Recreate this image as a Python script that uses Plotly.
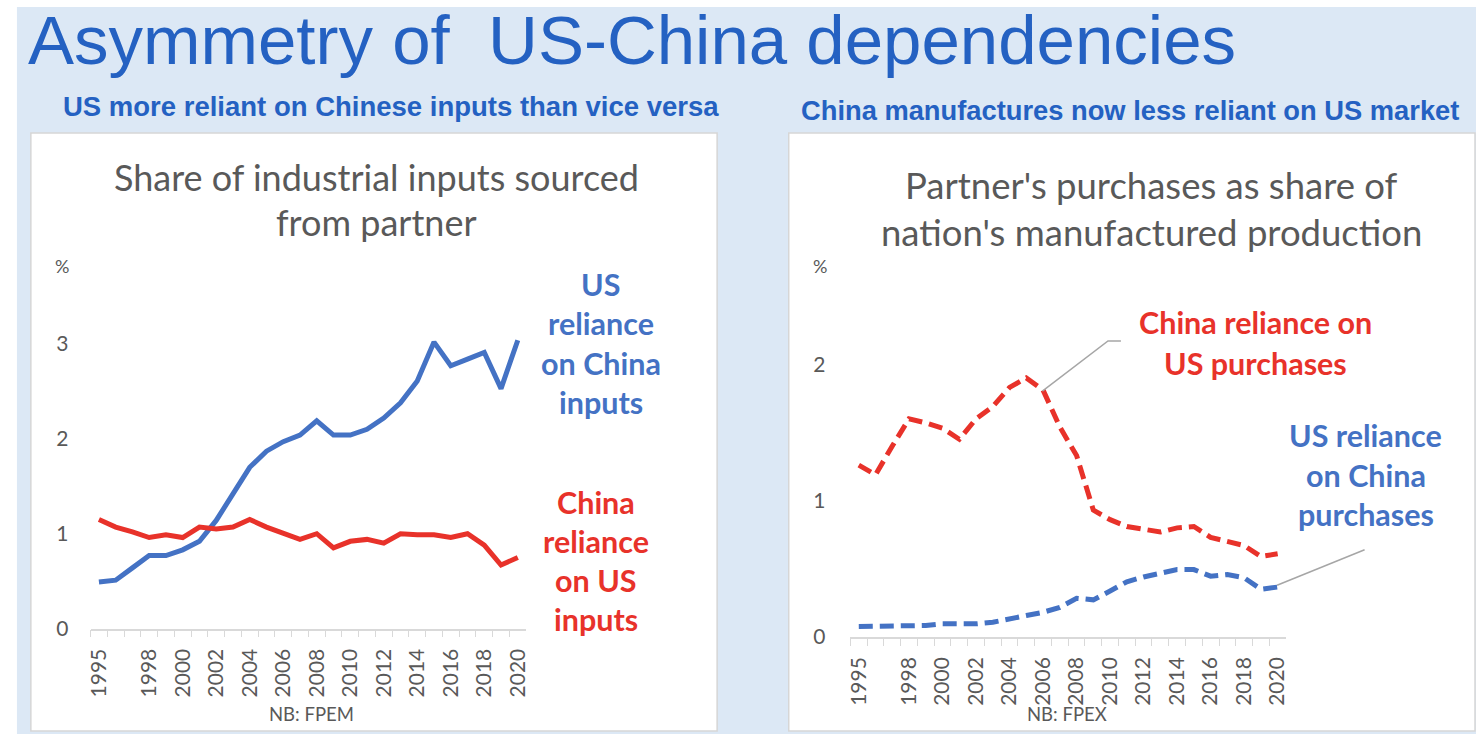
import plotly.graph_objects as go

# ---------------- data ----------------
years = [str(y) for y in range(1995, 2021)]
shown_labels = ["1995", "1998", "2000", "2002", "2004", "2006", "2008", "2010",
                "2012", "2014", "2016", "2018", "2020"]

# Left chart: share of industrial inputs sourced from partner (%)
us_reliance_inputs = [0.49, 0.51, 0.64, 0.77, 0.77, 0.83, 0.92, 1.14, 1.42, 1.70,
                      1.87, 1.97, 2.04, 2.19, 2.04, 2.04, 2.10, 2.22, 2.38, 2.61,
                      3.02, 2.77, 2.84, 2.91, 2.53, 3.04]
china_reliance_inputs = [1.15, 1.07, 1.02, 0.96, 0.99, 0.96, 1.07, 1.05, 1.07, 1.15,
                         1.07, 1.01, 0.94, 1.00, 0.85, 0.92, 0.94, 0.90, 1.00, 0.99,
                         0.99, 0.96, 1.00, 0.88, 0.67, 0.75]

# Right chart: partner's purchases as share of nation's manufactured production (%)
china_reliance_purchases = [1.26, 1.19, 1.40, 1.60, 1.57, 1.53, 1.45, 1.60, 1.69, 1.83,
                            1.90, 1.81, 1.54, 1.33, 0.93, 0.86, 0.81, 0.79, 0.77, 0.80,
                            0.81, 0.73, 0.70, 0.67, 0.59, 0.61]
us_reliance_purchases = [0.077, 0.077, 0.077, 0.077, 0.084, 0.096, 0.092, 0.096, 0.108, 0.137,
                         0.157, 0.181, 0.217, 0.284, 0.272, 0.337, 0.405, 0.44, 0.465, 0.494,
                         0.494, 0.446, 0.458, 0.434, 0.35, 0.366]

left_yticks = [0, 1, 2, 3]
right_yticks = [0, 1, 2]

# ---------------- styling ----------------
W, H = 1478, 745
BLUE = "#4472c4"
RED = "#e8322a"
TITLE_BLUE = "#2461c2"
GREY_TXT = "#595959"
AXIS_GREY = "#d9d9d9"
BG = "#dce8f5"
FONT = "Lato"


def px(x):
    return x / W


def py(y):
    return 1 - y / H


fig = go.Figure()

fig.add_trace(go.Scatter(x=years, y=us_reliance_inputs, mode="lines",
                         line=dict(color=BLUE, width=5), xaxis="x", yaxis="y",
                         name="US reliance on China inputs"))
fig.add_trace(go.Scatter(x=years, y=china_reliance_inputs, mode="lines",
                         line=dict(color=RED, width=5), xaxis="x", yaxis="y",
                         name="China reliance on US inputs"))
fig.add_trace(go.Scatter(x=years, y=china_reliance_purchases, mode="lines",
                         line=dict(color=RED, width=5, dash="14px,7px"), xaxis="x2", yaxis="y2",
                         name="China reliance on US purchases"))
fig.add_trace(go.Scatter(x=years, y=us_reliance_purchases, mode="lines",
                         line=dict(color=BLUE, width=5, dash="14px,7px"), xaxis="x2", yaxis="y2",
                         name="US reliance on China purchases"))

ticktext = [y if y in shown_labels else "" for y in years]

xaxis_common = dict(type="category", tickmode="array", tickvals=years, ticktext=ticktext,
                    tickson="boundaries", ticks="outside", ticklen=7, tickcolor=AXIS_GREY,
                    tickwidth=1.2, showline=True, linecolor=AXIS_GREY, linewidth=1.5,
                    showgrid=False, zeroline=False, tickangle=-90,
                    tickfont=dict(family=FONT, size=21, color=GREY_TXT),
                    ticklabelstandoff=10, range=[-0.5, 25.5], fixedrange=True)
yaxis_common = dict(showline=False, showgrid=False, zeroline=False, ticks="",
                    tickfont=dict(family=FONT, size=21, color=GREY_TXT), fixedrange=True)

fig.update_layout(
    width=W, height=H, autosize=False,
    margin=dict(l=0, r=0, t=0, b=0, pad=0),
    paper_bgcolor="white", plot_bgcolor="rgba(0,0,0,0)",
    showlegend=False,
    xaxis=dict(domain=[px(85), px(523)], anchor="y", **xaxis_common),
    yaxis=dict(domain=[py(638), py(301)], anchor="x", range=[0, 3.5],
               tickvals=left_yticks, ticklabelstandoff=21, **yaxis_common),
    xaxis2=dict(domain=[px(849), px(1287)], anchor="y2", **xaxis_common),
    yaxis2=dict(domain=[py(646.5), py(300.5)], anchor="x2", range=[0, 2.5],
                tickvals=right_yticks, ticklabelstandoff=24, **yaxis_common),
)

shapes = [
    dict(type="rect", xref="paper", yref="paper", x0=px(11), x1=px(1478), y0=py(745), y1=py(7),
         fillcolor=BG, line=dict(width=0), layer="below"),
    dict(type="rect", xref="paper", yref="paper", x0=px(25), x1=px(715), y0=py(742), y1=py(135),
         fillcolor="white", line=dict(color="#d6d6d6", width=1.5), layer="below"),
    dict(type="rect", xref="paper", yref="paper", x0=px(787), x1=px(1477), y0=py(742), y1=py(135),
         fillcolor="white", line=dict(color="#d6d6d6", width=1.5), layer="below"),
    # leader lines for labels
    dict(type="path", xref="paper", yref="paper",
         path=f"M {px(1042)} {py(397)} L {px(1108)} {py(346)} L {px(1121)} {py(346)}",
         line=dict(color="#a6a6a6", width=1.5)),
    dict(type="line", xref="paper", yref="paper", x0=px(1278), y0=py(594), x1=px(1366), y1=py(558),
         line=dict(color="#a6a6a6", width=1.5)),
]
fig.update_layout(shapes=shapes)


def ann(text, x, y, size, color, family=FONT, xanchor="center", bold=False):
    if bold:
        text = f"<b>{text}</b>"
    fig.add_annotation(text=text, x=px(x), y=py(y), xref="paper", yref="paper",
                       xanchor=xanchor, yanchor="middle", showarrow=False,
                       font=dict(family=family, size=size, color=color))


# main title and panel subtitles
ann("Asymmetry of&nbsp;&nbsp;US-China dependencies", 20, 41, 69, TITLE_BLUE,
    family="Liberation Sans", xanchor="left")
ann("US more reliant on Chinese inputs than vice versa", 387, 108, 27.5, TITLE_BLUE,
    family="Liberation Sans Narrow, Liberation Sans", bold=True)
ann("China manufactures now less reliant on US market", 1130, 112, 27.3, TITLE_BLUE,
    family="Liberation Sans Narrow, Liberation Sans", bold=True)

# chart titles
ann("Share of industrial inputs sourced", 373, 180, 36, GREY_TXT)
ann("from partner", 373, 225, 36, GREY_TXT)
ann("Partner's purchases as share of", 1152, 188, 36.5, GREY_TXT)
ann("nation's manufactured production", 1152, 235, 36.5, GREY_TXT)

# unit labels
ann("%", 56, 270, 18, GREY_TXT)
ann("%", 818, 270, 18, GREY_TXT)

# footnotes
ann("NB: FPEM", 307, 725, 18.5, GREY_TXT)
ann("NB: FPEX", 1067, 725, 18.5, GREY_TXT)

# series labels
for i, t in enumerate(["US", "reliance", "on China", "inputs"]):
    ann(t, 598, 288 + i * 40, 30.5, BLUE, bold=True)
for i, t in enumerate(["China", "reliance", "on US", "inputs"]):
    ann(t, 593, 510 + i * 39.5, 30.5, RED, bold=True)
for i, t in enumerate(["China reliance on", "US purchases"]):
    ann(t, 1256, 327 + i * 41, 30.5, RED, bold=True)
for i, t in enumerate(["US reliance", "on China", "purchases"]):
    ann(t, 1367, 442 + i * 40, 30.5, BLUE, bold=True)

post = ("var s=document.createElement('style');"
        "s.innerHTML='html,body{margin:0;padding:0;overflow:hidden;}';"
        "document.head.appendChild(s);")

fig.write_html("out.html", config={"displayModeBar": False}, post_script=post)
